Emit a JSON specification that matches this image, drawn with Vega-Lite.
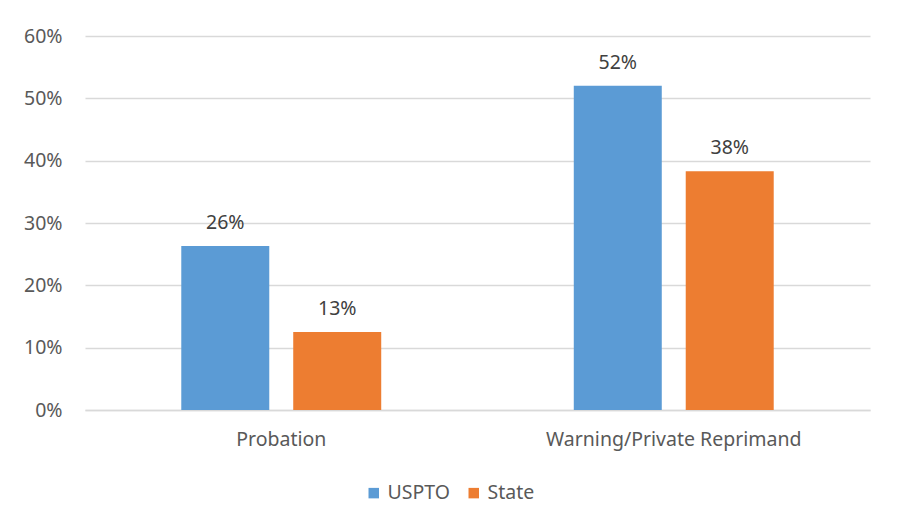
{
  "$schema": "https://vega.github.io/schema/vega-lite/v6.json",
  "width": 785,
  "height": 374,
  "autosize": {"type": "none"},
  "padding": {"left": 85, "top": 36, "right": 27, "bottom": 119},
  "background": "white",
  "config": {
    "view": {"stroke": null},
    "font": "Noto Sans"
  },
  "data": {
    "values": [
      {"category": "Probation", "source": "USPTO", "value": 0.263},
      {"category": "Probation", "source": "State", "value": 0.125},
      {"category": "Warning/Private Reprimand", "source": "USPTO", "value": 0.52},
      {"category": "Warning/Private Reprimand", "source": "State", "value": 0.383}
    ]
  },
  "encoding": {
    "x": {
      "field": "category", "type": "nominal", "sort": null,
      "scale": {"paddingInner": 0, "paddingOuter": 0},
      "axis": {"title": null, "labelAngle": 0, "ticks": false, "domain": true, "domainColor": "#D9D9D9", "domainWidth": 1.3, "labelPadding": 20, "labelLimit": 0, "labelFontSize": 19.5, "labelColor": "#595959", "labelFont": "Noto Sans", "grid": false}
    },
    "xOffset": {
      "field": "source", "type": "nominal", "sort": ["USPTO", "State"],
      "scale": {"paddingInner": 0.214, "paddingOuter": 0.86}
    },
    "y": {
      "field": "value", "type": "quantitative",
      "scale": {"domain": [0, 0.6], "nice": false},
      "axis": {"title": null, "format": ".0%", "values": [0, 0.1, 0.2, 0.3, 0.4, 0.5, 0.6], "labelOverlap": false, "domain": false, "ticks": false, "labelPadding": 23, "labelFontSize": 19.5, "labelColor": "#595959", "labelFont": "Noto Sans", "gridColor": "#D9D9D9", "gridWidth": 1.3}
    }
  },
  "layer": [
    {
      "mark": {"type": "bar"},
      "encoding": {
        "color": {
          "field": "source", "type": "nominal", "sort": ["USPTO", "State"],
          "scale": {"domain": ["USPTO", "State"], "range": ["#5B9BD5", "#ED7D31"]},
          "legend": {"title": null, "orient": "none", "legendX": 279, "legendY": 447, "direction": "horizontal", "symbolType": "square", "symbolSize": 110, "symbolStrokeWidth": 0, "labelFontSize": 19.5, "labelColor": "#595959", "labelFont": "Noto Sans", "columnPadding": 14, "labelOffset": 4}
        }
      }
    },
    {
      "mark": {"type": "text", "dy": -23, "fontSize": 19.5, "color": "#404040", "font": "Noto Sans"},
      "encoding": {
        "text": {"field": "value", "type": "quantitative", "format": ".0%"}
      }
    }
  ]
}
